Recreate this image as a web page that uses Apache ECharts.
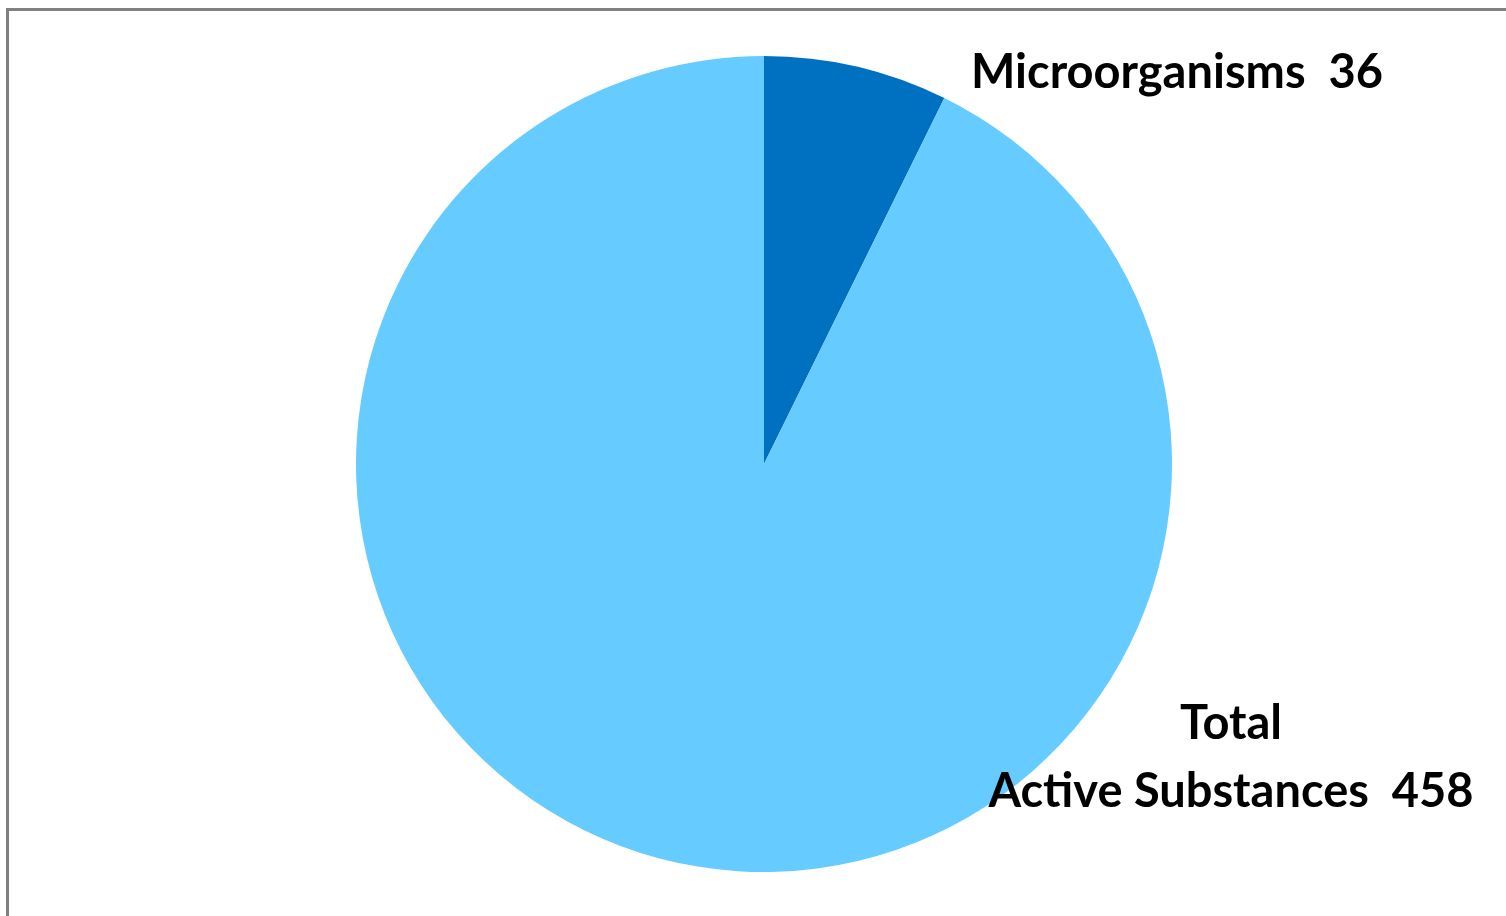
<!DOCTYPE html>
<html>
<head>
<meta charset="utf-8">
<script src="https://cdn.jsdelivr.net/npm/echarts@6/dist/echarts.min.js"></script>
<style>
    html, body { margin: 0; padding: 0; background: #fff; }
    #frame {
        position: absolute; left: 6px; top: 8px; width: 1520px; height: 930px;
        border-left: 3px solid #808080; border-top: 3px solid #808080;
    }
    #main { position: absolute; left: 0; top: 0; width: 1506px; height: 916px; }
</style>
</head>
<body>
<div id="frame"></div>
<div id="main"></div>
<script>
var categories = ['Microorganisms', 'Total\nActive Substances'];
var values = [36, 458];
var colors = ['#0070C0', '#66CCFF'];

// where each label sits (Excel-style manual label placement)
var labelSpots = [
    {x: 971, y: 73, align: 'left'},
    {x: 1231, y: 758, align: 'center'}
];

var data = [];
for (var i = 0; i < categories.length; i++) {
    data.push({
        name: categories[i],
        value: values[i],
        itemStyle: { color: colors[i] },
        label: { align: labelSpots[i].align }
    });
}

var myChart = echarts.init(document.getElementById('main'));
var option = {
    animation: false,
    series: [
        {
            type: 'pie',
            center: [764, 464],
            radius: 408,
            startAngle: 90,
            clockwise: true,
            data: data,
            itemStyle: { borderWidth: 0 },
            label: {
                show: true,
                formatter: '{b}  {c}',
                color: '#000',
                fontFamily: 'Lato',
                fontWeight: 'bold',
                fontSize: 47,
                lineHeight: 68
            },
            labelLine: { show: false },
            labelLayout: function (params) {
                var s = labelSpots[params.dataIndex];
                return { x: s.x, y: s.y, align: s.align, verticalAlign: 'middle' };
            }
        }
    ]
};
myChart.setOption(option, true);
</script>
</body>
</html>
